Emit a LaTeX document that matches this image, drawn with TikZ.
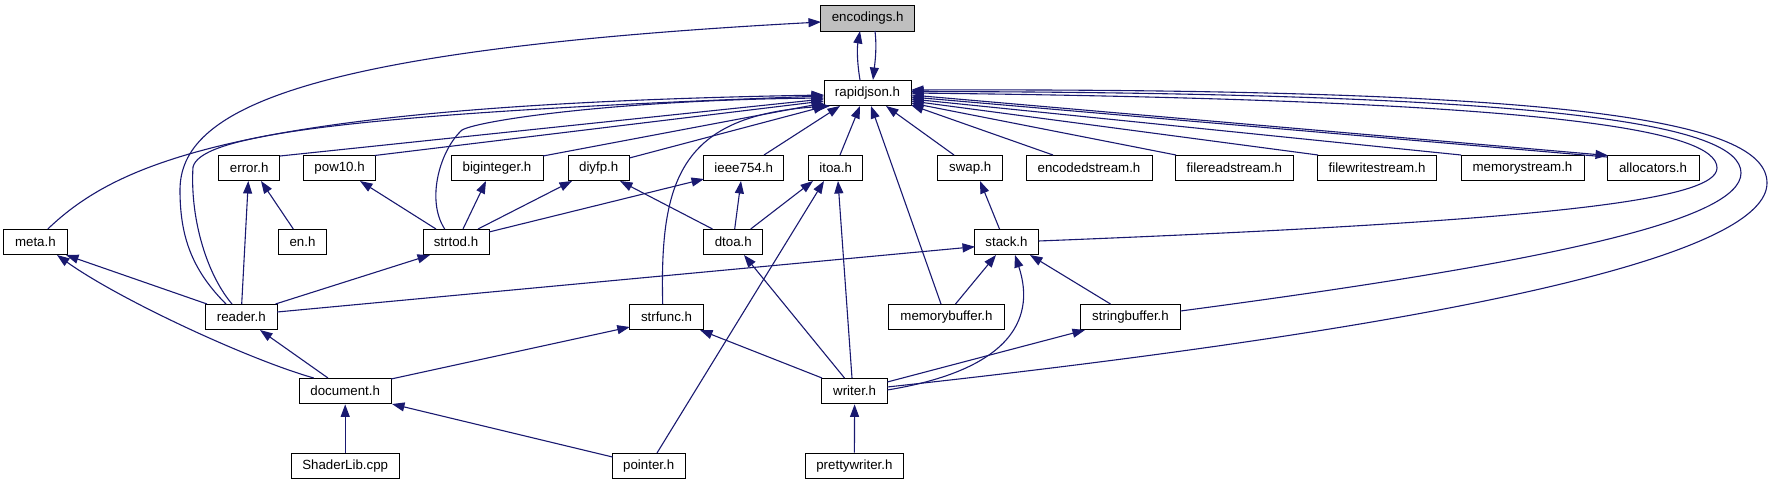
\documentclass[tikz,border=0pt]{standalone}
\usepackage{fontspec}
\setmainfont{Liberation Sans}
\usetikzlibrary{arrows.meta,calc}
\definecolor{edgeblue}{RGB}{25,25,112}
\definecolor{focusgray}{RGB}{191,191,191}
\tikzset{
  box/.style={draw=black, line width=1pt, fill=white, inner sep=0pt,
    minimum height=25.7pt, font=\fontsize{13.3}{15}\selectfont},
  edge/.style={draw=edgeblue, line width=1.1pt,
    -{Triangle[length=12.5pt,width=9pt]}, shorten >=0pt},
}
\begin{document}
\begin{tikzpicture}[x=1pt,y=-1pt]
\useasboundingbox (0,0) rectangle (1773,485);
% row 1-2
\node[box, fill=focusgray, minimum width=93.5pt] (enc) at (867.7,18.5) {encodings.h};
\node[box, minimum width=87pt] (rj) at (867.5,93) {rapidjson.h};
% row 3
\node[box, minimum width=61.5pt] (err) at (249.2,168) {error.h};
\node[box, minimum width=72.3pt] (pow) at (339.6,168) {pow10.h};
\node[box, minimum width=92pt] (big) at (497,168) {biginteger.h};
\node[box, minimum width=61.4pt] (diy) at (598.7,168) {diyfp.h};
\node[box, minimum width=80pt] (iee) at (743.7,168) {ieee754.h};
\node[box, minimum width=54.5pt] (ito) at (835.7,168) {itoa.h};
\node[box, minimum width=64.5pt] (swp) at (970.2,168) {swap.h};
\node[box, minimum width=126pt] (ens) at (1089,168) {encodedstream.h};
\node[box, minimum width=117.3pt] (frs) at (1234.4,168) {filereadstream.h};
\node[box, minimum width=118.7pt] (fws) at (1377,168) {filewritestream.h};
\node[box, minimum width=123pt] (mst) at (1522.5,168) {memorystream.h};
\node[box, minimum width=92pt] (alc) at (1653,168) {allocators.h};
% row 4
\node[box, minimum width=63.2pt] (meta) at (35.4,242) {meta.h};
\node[box, minimum width=47.8pt] (en) at (302.5,242) {en.h};
\node[box, minimum width=66pt] (sto) at (456,242) {strtod.h};
\node[box, minimum width=59.3pt] (dto) at (733.3,242) {dtoa.h};
\node[box, minimum width=64pt] (stk) at (1006.5,242) {stack.h};
% row 5
\node[box, minimum width=71.6pt] (rdr) at (241.3,317) {reader.h};
\node[box, minimum width=73.5pt] (sfn) at (666.5,317) {strfunc.h};
\node[box, minimum width=116pt] (mbf) at (946.5,317) {memorybuffer.h};
\node[box, minimum width=100pt] (sbf) at (1130.5,317) {stringbuffer.h};
% row 6
\node[box, minimum width=91.8pt] (doc) at (345.2,391) {document.h};
\node[box, minimum width=65.4pt] (wrt) at (854.6,391) {writer.h};
% row 7
\node[box, minimum width=108pt] (shl) at (345.2,466) {ShaderLib.cpp};
\node[box, minimum width=73pt] (ptr) at (648.7,466) {pointer.h};
\node[box, minimum width=98.8pt] (pwr) at (854.4,466) {prettywriter.h};

% encodings <-> rapidjson
\draw[edge] ($(rj.center)+(-7.5,-13)$) .. controls +(-3,-18) and +(-3,17) .. ($(enc.center)+(-7.7,12.5)$);
\draw[edge] ($(enc.center)+(7.3,12.5)$) .. controls +(2,17) and +(2,-18) .. ($(rj.center)+(5.5,-13)$);
% reader -> encodings (long curve)
\draw[edge] ($(rdr.center)+(-15.3,-13)$) .. controls +(-35,-35) and +(0,45) .. (180,190)
  .. controls +(0,-80) and +(-521,28) .. ($(enc.center)+(-46.7,3.5)$);
% reader -> rapidjson
\draw[edge] ($(rdr.center)+(-9.3,-13)$) .. controls +(-27,-32) and +(-3,48) .. (193,167)
  .. controls +(7,-27) and +(-524,19) .. ($(rj.center)+(-43.5,3)$);
% meta -> rapidjson
\draw[edge] ($(meta.center)+(12.4,-13)$) .. controls +(72,-69) and +(-574,10) .. ($(rj.center)+(-43.5,2)$);
% row 3 -> rapidjson (left)
\draw[edge] ($(err.center)+(30.8,-12)$) -- ($(rj.center)+(-43.5,6)$);
\draw[edge] ($(pow.center)+(35,-12.5)$) -- ($(rj.center)+(-43.5,8)$);
\draw[edge] ($(big.center)+(46,-12)$) -- ($(rj.center)+(-43.5,10)$);
\draw[edge] ($(diy.center)+(30.7,-10)$) -- ($(rj.center)+(-41.5,13)$);
% strtod -> rapidjson (curve)
\draw[edge] ($(sto.center)+(-11.3,-13)$) .. controls +(-19,-29) and +(-22,20) .. (462,130)
  .. controls +(18,-10) and +(-204,2) .. ($(rj.center)+(-43.5,5)$);
% strfunc -> rapidjson (curve)
\draw[edge] ($(sfn.center)+(-3.8,-13)$) .. controls +(-3,-124) and +(-150,9) .. ($(rj.center)+(-37.5,13)$);
\draw[edge] ($(iee.center)+(20.3,-13)$) -- ($(rj.center)+(-27.5,13)$);
\draw[edge] ($(ito.center)+(4.3,-13)$) -- ($(rj.center)+(-7.5,13)$);
\draw[edge] ($(mbf.center)+(-5.5,-13)$) -- ($(rj.center)+(3.5,13)$);
\draw[edge] ($(swp.center)+(-16.2,-13)$) -- ($(rj.center)+(18.5,13)$);
% row 3 -> rapidjson (right)
\draw[edge] ($(ens.center)+(-36,-13)$) -- ($(rj.center)+(43.5,12)$);
\draw[edge] ($(frs.center)+(-58.4,-13)$) -- ($(rj.center)+(43.5,10)$);
\draw[edge] ($(fws.center)+(-59,-13)$) -- ($(rj.center)+(43.5,8)$);
\draw[edge] ($(mst.center)+(-61.5,-13)$) -- ($(rj.center)+(43.5,6)$);
\draw[edge] ($(alc.center)+(-46,-11)$) -- ($(rj.center)+(43.5,4)$);
\draw[edge] ($(rj.center)+(43.5,2)$) -- ($(alc.center)+(-45,-12.5)$);
% right loops
\draw[edge] ($(stk.center)+(32,-1)$) .. controls +(510,-20) and +(0,32) .. (1717,168)
  .. controls +(0,-38) and +(640,7) .. ($(rj.center)+(43.5,0)$);
\draw[edge] ($(sbf.center)+(50,-6)$) .. controls +(370,-49) and +(0,47) .. (1741,173)
  .. controls +(0,-48) and +(649,1) .. ($(rj.center)+(43.5,-1.5)$);
\draw[edge] ($(wrt.center)+(32.7,-4)$) .. controls +(613,-67) and +(0,67) .. (1767,183)
  .. controls +(0,-63) and +(659,-2) .. ($(rj.center)+(43.5,-3)$);
% error
\draw[edge] ($(en.center)+(-9.2,-13)$) -- ($(err.center)+(11.8,13)$);
\draw[edge] ($(rdr.center)+(0.4,-13)$) -- ($(err.center)+(-0.9,13)$);
% strtod
\draw[edge] ($(sto.center)+(-20,-13)$) -- ($(pow.center)+(20.4,13)$);
\draw[edge] ($(sto.center)+(7,-13)$) -- ($(big.center)+(-11,13)$);
\draw[edge] ($(sto.center)+(22,-13)$) -- ($(diy.center)+(-26.7,13)$);
\draw[edge] ($(sto.center)+(33,-10)$) -- ($(iee.center)+(-39.7,11)$);
% dtoa
\draw[edge] ($(dto.center)+(-20.8,-13)$) -- ($(diy.center)+(21.3,13)$);
\draw[edge] ($(dto.center)+(1.4,-13)$) -- ($(iee.center)+(-2.7,13)$);
\draw[edge] ($(dto.center)+(17.4,-13)$) -- ($(ito.center)+(-22.7,13)$);
% itoa
\draw[edge] ($(ptr.center)+(8.3,-13)$) -- ($(ito.center)+(-11.7,13)$);
\draw[edge] ($(wrt.center)+(-2.6,-13)$) -- ($(ito.center)+(2.3,13)$);
% writer
\draw[edge] ($(wrt.center)+(-10.1,-13)$) -- ($(dto.center)+(10.7,13)$);
\draw[edge] ($(wrt.center)+(-32.6,-13)$) -- ($(sfn.center)+(33.5,13)$);
\draw[edge] ($(doc.center)+(45.9,-12)$) -- ($(sfn.center)+(-36.7,10)$);
% reader
\draw[edge] ($(rdr.center)+(35.8,-5)$) -- ($(stk.center)+(-31.5,4.7)$);
\draw[edge] ($(rdr.center)+(-34.3,-13)$) -- ($(meta.center)+(30.6,13)$);
\draw[edge] ($(doc.center)+(-31.4,-13)$) .. controls +(-64,-18) and +(63,45) .. ($(meta.center)+(21.6,13)$);
\draw[edge] ($(doc.center)+(-17.2,-13)$) -- ($(rdr.center)+(18.7,13)$);
\draw[edge] ($(rdr.center)+(34.2,-13)$) -- ($(sto.center)+(-26,13)$);
% document
\draw[edge] (shl.north) -- (doc.south);
\draw[edge] ($(ptr.center)+(-36.2,-9)$) -- ($(doc.center)+(46.8,13)$);
\draw[edge] (pwr.north) -- (wrt.south);
% stack
\draw[edge] ($(mbf.center)+(9,-13)$) -- ($(stk.center)+(-10.5,13)$);
\draw[edge] ($(wrt.center)+(32.7,-1)$) .. controls +(153,-25) and +(13,40) .. ($(stk.center)+(8.5,13)$);
\draw[edge] ($(sbf.center)+(-20,-13)$) -- ($(stk.center)+(23.5,13)$);
\draw[edge] ($(wrt.center)+(32.7,-9)$) -- ($(sbf.center)+(-45.5,13)$);
\draw[edge] ($(stk.center)+(-7,-13)$) -- ($(swp.center)+(9.8,13)$);
\end{tikzpicture}
\end{document}
